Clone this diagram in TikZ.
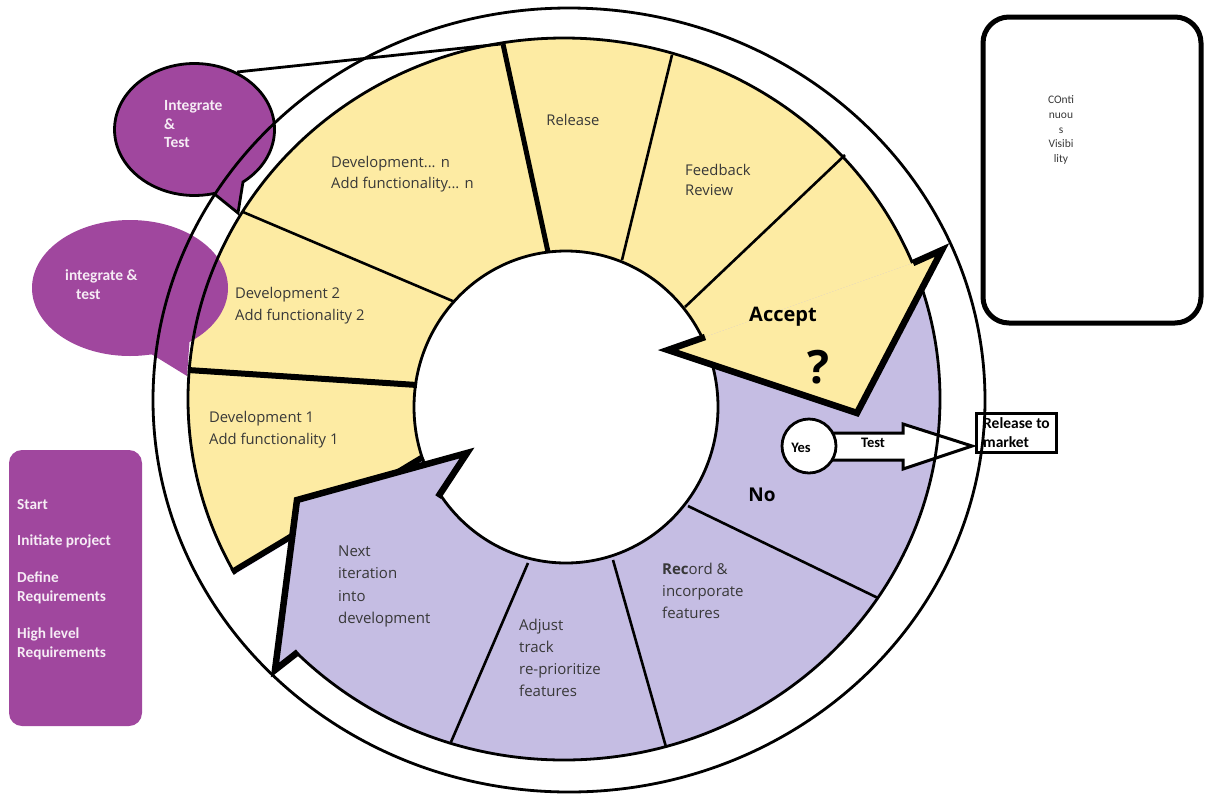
\documentclass[tikz,border=0pt]{standalone}
\usepackage{fontspec}
\setmainfont{Open Sans}
\newfontfamily\carl{Carlito}
\usetikzlibrary{calc}
\definecolor{ylw}{HTML}{FDEBA3}
\definecolor{lpur}{HTML}{C5BDE3}
\definecolor{dpur}{HTML}{A0479E}
\definecolor{txt}{HTML}{383838}
\definecolor{btxt}{HTML}{F6ECF5}
\begin{document}
\begin{tikzpicture}[x=1pt,y=-1pt,
  lbl/.style={font=\fontsize{14.8}{21.5}\selectfont, text=txt, align=left, anchor=west, inner sep=0pt},
  lblb/.style={font=\fontsize{15}{22.2}\selectfont, text=txt, align=left, anchor=west, inner sep=0pt},
  bub/.style={font=\carl\bfseries\fontsize{15.5}{18.5}\selectfont, text=btxt, align=left, anchor=west, inner sep=0pt},
  boxt/.style={font=\carl\bfseries\fontsize{15.3}{19}\selectfont, text=btxt, align=left, anchor=west, inner sep=0pt},
  smallb/.style={font=\carl\bfseries\fontsize{14.5}{18.5}\selectfont, text=black, align=left, inner sep=0pt},
  thinl/.style={line width=2.6pt, black},
  thickl/.style={line width=6pt, black},
  ring/.style={line width=2.8pt, black},
  chev/.style={line width=6.5pt, black, line join=miter, miter limit=6}]
\useasboundingbox (0,0) rectangle (1205,796);

% outer ring background
\fill[white] (569,400) ellipse [x radius=416pt, y radius=392pt];

% disk segments
\begin{scope}
  \clip (564,399) ellipse [x radius=376pt, y radius=361pt];
  \fill[lpur] (0,0) rectangle (1205,796);
  \fill[ylw] (480,423) -- (150,621) -- (0,700) -- (0,0) -- (1000,0) -- (1000,232) -- (640,360) -- cycle;
\end{scope}
\fill[white] (566,407) ellipse [x radius=152pt, y radius=156pt];

% radial dividers
\draw[thinl] (243,212) -- (455,302);
\draw[thinl] (672,55) -- (622,260);
\draw[thinl] (845,155) -- (685,307);
\draw[thinl] (878,598) -- (688,506);
\draw[thinl] (613,560) -- (666,747);
\draw[thinl] (528,563) -- (451,742);
\draw[thickl] (188,370) -- (417,385);
\draw[line width=5pt] (503,44) -- (548,252);
\draw[thickl] (232,572) -- (423,457);

% speech bubbles
\fill[dpur] (130,288) ellipse [x radius=98pt, y radius=68pt];
\fill[dpur] (148,352) -- (187,376) -- (190,335) -- cycle;
\filldraw[fill=dpur, draw=black, line width=2.8pt] (243,182) arc[start angle=-52.7, end angle=284, x radius=80pt, y radius=66pt] -- (238,213) -- cycle;
\draw[line width=2.8pt] (237,72) -- (501,44);

% test arrow and yes circle
\filldraw[fill=white, draw=black, line width=3pt] (828,433) -- (903,433) -- (903,424) -- (972,446) -- (903,469) -- (903,460) -- (828,460);
\filldraw[fill=white, draw=black, line width=2.8pt] (809,446) circle[radius=27pt];
\draw[line width=3pt] (976,413) rectangle (1056,452);

% right box
\draw[line width=5pt, rounded corners=26pt] (983,17) rectangle (1201,323);
% left box
\fill[dpur, rounded corners=13pt] (9,450) rectangle (142,726);

% ring outlines
\draw[ring] (569,400) ellipse [x radius=416pt, y radius=392pt];
\draw[ring] (564,399) ellipse [x radius=376pt, y radius=361pt];
\draw[ring] (566,407) ellipse [x radius=152pt, y radius=156pt];

% white gap between Development 1 and the next-iteration arrow
\begin{scope}
  \clip (564,399) ellipse [x radius=380pt, y radius=365pt];
  \fill[white] (221.8,582.2) -- (294.3,538.5) -- (272.5,690) -- (150,690) -- cycle;
\end{scope}

% chevrons
\fill[ylw] (913,263) -- (942,250) -- (857,413) -- (668,350) -- (705,337) -- cycle;
\fill[lpur] (298,652) -- (275,670) -- (297,500) -- (467,453) -- (438,497) -- cycle;
\draw[chev] (913,263) -- (942,250) -- (857,413) -- (668,350) -- (705,337);
\draw[chev] (298,652) -- (275,670) -- (297,500) -- (467,453) -- (438,497);

% labels
\node[lbl] (devn) at (331,174) {Development... n\\Add functionality... n};
\node[lbl, anchor=center] (rel) at (573,120) {Release};
\node[lbl, font=\fontsize{14.8}{20.5}\selectfont] (fb) at (685,180) {Feedback\\Review};
\node[lbl] (dev2) at (235,305.5) {Development 2\\Add functionality 2};
\node[lbl] (dev1) at (209,429.5) {Development 1\\Add functionality 1};
\node[lblb] (next) at (338,586.5) {Next\\iteration\\into\\development};
\node[lblb] (adj) at (519,658) {Adjust\\track\\re-prioritize\\features};
\node[lblb] (rec) at (662,591) {\textbf{Rec}ord \&\\incorporate\\features};
\node[font=\bfseries\fontsize{20}{24}\selectfont, text=black, inner sep=0pt] (acc) at (783,317) {Accept};
\node[font=\bfseries\fontsize{46}{50}\selectfont, text=black, inner sep=0pt] (q) at (818,367) {?};
\node[font=\bfseries\fontsize{19}{23}\selectfont, text=black, inner sep=0pt] (no) at (762,495) {No};

\node[smallb, anchor=center] (yes) at (801,448) {Yes};
\node[smallb, anchor=center] (test) at (873,443) {Test};
\node[smallb, anchor=west, font=\carl\bfseries\fontsize{15.5}{18.5}\selectfont] (rtm) at (983,432.5) {Release to\\market};

\node[bub] (it1) at (164,124.5) {Integrate\\\&\\Test};
\node[bub] (it2) at (65,284.5) {integrate \&\\\hspace*{11pt}test};

\node[boxt] (s1) at (17,505) {Start};
\node[boxt] (s2) at (17,541) {Initiate project};
\node[boxt] (s3) at (17,587.5) {Define\\Requirements};
\node[boxt] (s4) at (17,643.5) {High level\\Requirements};

\node[font=\carl\fontsize{11.5}{14.6}\selectfont, text=txt, align=center, inner sep=0pt] (cv) at (1061,130) {COnti\\nuou\\s\\Visibi\\lity};
\end{tikzpicture}
\end{document}
